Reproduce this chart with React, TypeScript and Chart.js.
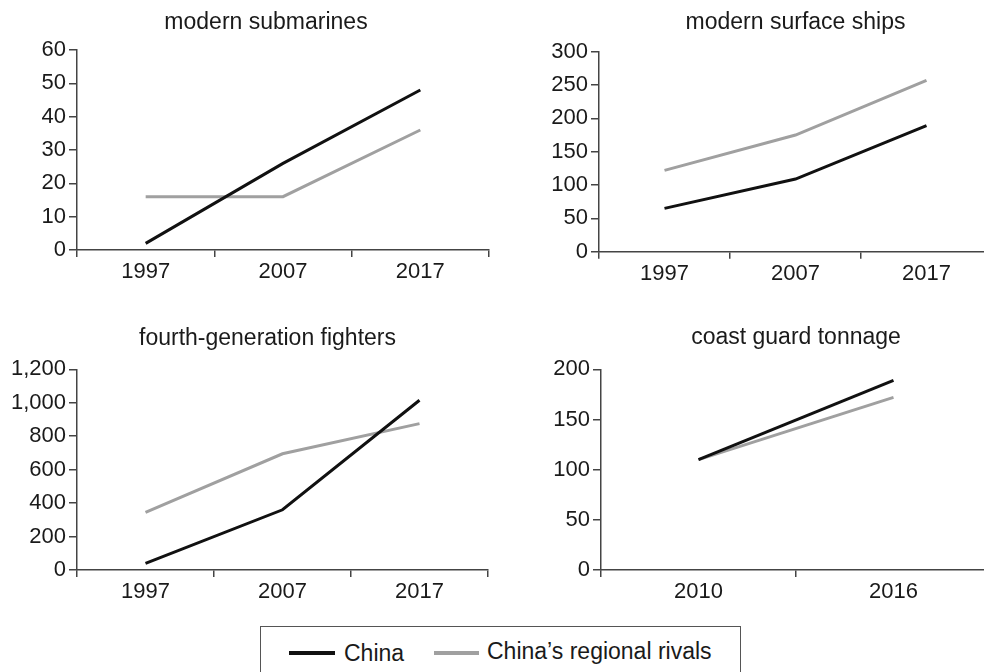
import React, { useEffect, useRef } from 'react';
import { Chart, registerables } from 'chart.js';

Chart.register(...registerables);

const FONT = '"Liberation Sans", Arial, Helvetica, sans-serif';
const BLACK = '#111111';
const GRAY = '#a0a0a0';
const AXIS = '#444444';
const TEXT = '#1a1a1a';

// ---- data ----
const years = ['1997', '2007', '2017'];
const submarinesChina = [2, 26, 48];
const submarinesRivals = [16, 16, 36];
const shipsChina = [65, 109, 189];
const shipsRivals = [122, 175, 257];
const fightersChina = [40, 360, 1015];
const fightersRivals = [345, 695, 875];
const coastYears = ['2010', '2016'];
const coastChina = [110, 189];
const coastRivals = [110, 172];

const seriesNames = ['China', 'China\u2019s regional rivals'];

type Panel = {
  title: string;
  labels: string[];
  china: number[];
  rivals: number[];
  max: number;
  step: number;
  left: number;
  top: number;
  width: number;
  height: number;
  padRight: number;
  yWidth: number;
  rightSpacer: number;
  xHeight: number;
  titleFull: boolean;
  titleTop: number;
  titleBottom: number;
};

const panels: Panel[] = [
  {
    title: 'modern submarines', labels: years, china: submarinesChina, rivals: submarinesRivals,
    max: 60, step: 10, left: 0, top: 0, width: 532, height: 300,
    padRight: 0, yWidth: 77, rightSpacer: 43, xHeight: 50, titleFull: true, titleTop: 9, titleBottom: 13.4,
  },
  {
    title: 'modern surface ships', labels: years, china: shipsChina, rivals: shipsRivals,
    max: 300, step: 50, left: 500, top: 0, width: 500, height: 300,
    padRight: 8, yWidth: 99, rightSpacer: 0, xHeight: 48.3, titleFull: false, titleTop: 9.2, titleBottom: 14.9,
  },
  {
    title: 'fourth-generation fighters', labels: years, china: fightersChina, rivals: fightersRivals,
    max: 1200, step: 200, left: 0, top: 320, width: 535, height: 300,
    padRight: 0, yWidth: 77, rightSpacer: 47, xHeight: 50, titleFull: true, titleTop: 5.2, titleBottom: 16.5,
  },
  {
    title: 'coast guard tonnage', labels: coastYears, china: coastChina, rivals: coastRivals,
    max: 200, step: 50, left: 500, top: 320, width: 500, height: 300,
    padRight: 9, yWidth: 101, rightSpacer: 0, xHeight: 50, titleFull: false, titleTop: 3.7, titleBottom: 18,
  },
];

function PanelChart({ p }: { p: Panel }) {
  const ref = useRef<HTMLCanvasElement | null>(null);
  useEffect(() => {
    if (!ref.current) return;
    const scales: any = {
      x: {
        type: 'category',
        offset: true,
        grid: { offset: true, drawOnChartArea: false, drawTicks: true, tickLength: 7, color: AXIS, lineWidth: 1.5 },
        border: { display: true, color: AXIS, width: 1.5 },
        ticks: { color: TEXT, font: { family: FONT, size: 22 }, padding: 2, maxRotation: 0, autoSkip: false },
        afterFit: (s: any) => { s.height = p.xHeight; },
      },
      y: {
        position: 'left',
        min: 0,
        max: p.max,
        grid: { drawOnChartArea: false, drawTicks: true, tickLength: 8, color: AXIS, lineWidth: 1.5 },
        border: { display: true, color: AXIS, width: 1.5 },
        ticks: {
          stepSize: p.step,
          color: TEXT,
          padding: 3,
          font: { family: FONT, size: 22 },
          callback: (v: any) => Number(v).toLocaleString('en-US'),
        },
        afterFit: (s: any) => { s.width = p.yWidth; },
      },
    };
    if (p.rightSpacer > 0) {
      scales.spacer = {
        type: 'linear',
        position: 'right',
        display: true,
        grid: { display: false, drawTicks: false },
        border: { display: false },
        ticks: { display: false },
        afterFit: (s: any) => { s.width = p.rightSpacer; },
      };
    }
    const chart = new Chart(ref.current, {
      type: 'line',
      data: {
        labels: p.labels,
        datasets: [
          {
            label: seriesNames[0], data: p.china, borderColor: BLACK, borderWidth: 3,
            pointRadius: 0, tension: 0, fill: false, order: 1, yAxisID: 'y',
          },
          {
            label: seriesNames[1], data: p.rivals, borderColor: GRAY, borderWidth: 3,
            pointRadius: 0, tension: 0, fill: false, order: 2, yAxisID: 'y',
          },
        ],
      },
      options: {
        responsive: false,
        animation: false,
        devicePixelRatio: 1,
        layout: { padding: { left: 0, right: p.padRight, top: 0, bottom: 0 } },
        plugins: {
          legend: { display: false },
          tooltip: { enabled: false },
          title: {
            display: true,
            text: p.title,
            fullSize: p.titleFull,
            color: TEXT,
            font: { family: FONT, size: 23, weight: 'normal', lineHeight: 1.2 },
            padding: { top: p.titleTop, bottom: p.titleBottom },
          },
        },
        scales,
      } as any,
    });
    return () => chart.destroy();
  }, [p]);
  return (
    <canvas
      ref={ref}
      width={p.width}
      height={p.height}
      style={{ position: 'absolute', left: p.left, top: p.top, width: p.width, height: p.height }}
    />
  );
}

export default function App() {
  return (
    <div
      style={{
        position: 'fixed', left: 0, top: 0, width: 984, height: 672, overflow: 'hidden',
        background: '#ffffff', fontFamily: FONT,
      }}
    >
      {panels.map((p, i) => (
        <PanelChart key={i} p={p} />
      ))}
      <div
        style={{
          position: 'absolute', left: 260, top: 626, width: 481, height: 70,
          border: '1px solid #555555', boxSizing: 'border-box',
        }}
      />
      <div style={{ position: 'absolute', left: 289, top: 651, width: 46, height: 4, background: BLACK }} />
      <div
        style={{
          position: 'absolute', left: 344, top: 642, fontSize: 23, lineHeight: '23px', color: TEXT,
          whiteSpace: 'nowrap',
        }}
      >
        {seriesNames[0]}
      </div>
      <div style={{ position: 'absolute', left: 434, top: 651, width: 45, height: 4, background: GRAY }} />
      <div
        style={{
          position: 'absolute', left: 487, top: 640, fontSize: 23, lineHeight: '23px', color: TEXT,
          whiteSpace: 'nowrap',
        }}
      >
        {seriesNames[1]}
      </div>
    </div>
  );
}
